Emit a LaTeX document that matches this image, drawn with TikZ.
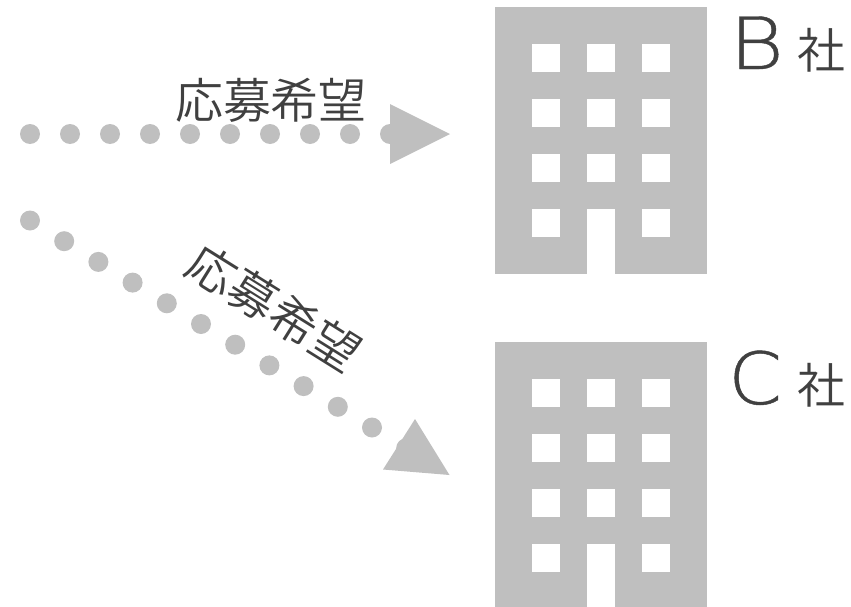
\documentclass[tikz,border=0pt]{standalone}
\usepackage{fontspec}
\newfontfamily\cjkf{Noto Sans CJK JP DemiLight}
\newfontfamily\latf[FakeStretch=1.16,FakeBold=0.6]{DejaVu Sans ExtraLight}
\newfontfamily\latc[FakeStretch=1.07,FakeBold=0.6]{DejaVu Sans ExtraLight}
\definecolor{shapegray}{HTML}{BFBFBF}
\definecolor{textgray}{HTML}{404040}
\tikzset{
  dotmark/.style={fill=shapegray,draw=none},
  headmark/.style={fill=shapegray,draw=none},
  bldg/.style={fill=shapegray,draw=none},
  win/.style={fill=white,draw=none},
  apply/.style={text=textgray,inner sep=0pt,font=\cjkf\fontsize{36}{36}\selectfont},
  firm/.style={text=textgray,inner sep=0pt,anchor=base west},
}
\newcommand{\building}[1]{%
  \begin{scope}[yshift=#1*(-0.75pt)]
    \fill[bldg] (495,7) rectangle (706.5,273.5);
    \foreach \wy in {44,99,154,209}
      \foreach \wx in {532,587,642}
        \fill[win] (\wx,\wy) rectangle ++(27.5,27.5);
    \fill[win] (587,230) rectangle (614.5,273.5);
  \end{scope}}
\begin{document}
\begin{tikzpicture}[x=0.75pt,y=-0.75pt]
\useasboundingbox (0,0) rectangle (851,607);
\building{0}
\building{335}
\foreach \dx in {30,70,...,390}
  \fill[dotmark] (\dx,134) circle[radius=10];
\fill[headmark] (390,104) -- (450,134) -- (390,164) -- cycle;
\foreach \i in {0,...,11}
  \fill[dotmark] ({30+\i*34.2},{220.5+\i*20.7}) circle[radius=10];
\fill[headmark] (415,419) -- (449.5,475) -- (383,469.5) -- cycle;
\node[apply] (l1) at (271,100) {応募希望};
\node[apply,rotate=-32] (l2) at (274,308) {応募希望};
\node[firm,font=\latf\fontsize{54}{54}\selectfont] (b) at (729,69) {B};
\node[firm,font=\cjkf\fontsize{36}{36}\selectfont] (bs) at (797,68) {社};
\node[firm,font=\latc\fontsize{54}{54}\selectfont] (c) at (728,404) {C};
\node[firm,font=\cjkf\fontsize{36}{36}\selectfont] (cs) at (797,403) {社};
\end{tikzpicture}
\end{document}
